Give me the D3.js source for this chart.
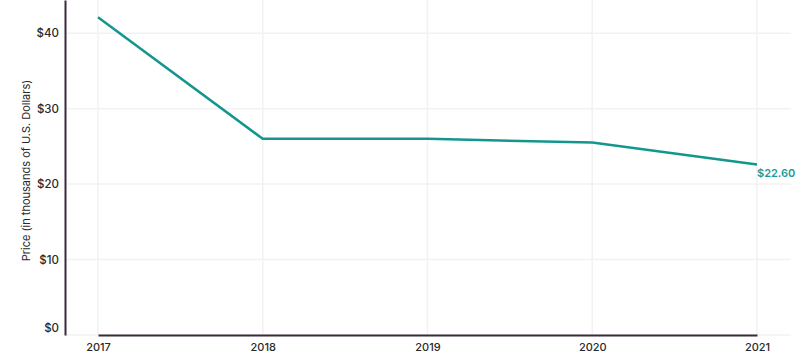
<!DOCTYPE html>
<html>
<head>
<meta charset="utf-8">
<script src="https://cdn.jsdelivr.net/npm/d3@7"></script>
<style>
  body { margin: 0; background: #fff; }
  svg text { font-family: Inter, "Open Sans", sans-serif; }
</style>
</head>
<body>
<svg id="chart"></svg>
<script>
var years = ['2017', '2018', '2019', '2020', '2021'];
var prices = [42.1, 26.0, 26.0, 25.5, 22.6];
var yTicks = [0, 10, 20, 30, 40];
var yTitle = 'Price (in thousands of U.S. Dollars)';

document.addEventListener('DOMContentLoaded', () => {
  var size = { width: 800, height: 354, margin: { top: 0, right: 9, bottom: 19, left: 65 } };
  var margin = size.margin;
  var width = size.width - margin.left - margin.right;
  var height = size.height - margin.top - margin.bottom;

  var x = d3.scalePoint()
    .domain(years)
    .range([33, 692]);

  var y = d3.scaleLinear()
    .domain([0, 44.4])
    .range([height, 0]);

  var svg = d3.select('#chart')
    .attr('width', size.width)
    .attr('height', size.height);

  var chart = svg.append('g')
    .attr('transform', `translate(${ margin.left }, ${ margin.top })`);

  // light grid
  chart.append('g')
    .selectAll('line')
    .data(yTicks)
    .enter().append('line')
      .attr('x1', 0)
      .attr('x2', width)
      .attr('y1', d => y(d))
      .attr('y2', d => y(d))
      .attr('stroke', '#f3f2f3')
      .attr('stroke-width', 1.5);

  chart.append('g')
    .selectAll('line')
    .data(years)
    .enter().append('line')
      .attr('x1', d => x(d))
      .attr('x2', d => x(d))
      .attr('y1', 0)
      .attr('y2', height)
      .attr('stroke', '#f3f2f3')
      .attr('stroke-width', 1.5);

  var yAxis = d3.axisLeft(y)
    .tickValues(yTicks)
    .tickSize(0)
    .tickPadding(6)
    .tickFormat(d => '$' + d);

  var xAxis = d3.axisBottom(x)
    .tickSize(0)
    .tickPadding(8);

  var ya = chart.append('g').call(yAxis);
  ya.select('.domain').attr('stroke', '#3b2a3b').attr('stroke-width', 2);
  ya.selectAll('text')
    .attr('font-size', 11.5)
    .attr('font-weight', 500)
    .attr('fill', '#2a2a2a')
    .attr('dy', d => d === 0 ? '-0.3em' : '0.32em');

  var xa = chart.append('g')
    .attr('transform', `translate(0, ${ height })`)
    .call(xAxis);
  xa.select('.domain').attr('stroke', '#3b2a3b').attr('stroke-width', 2);
  xa.selectAll('text')
    .attr('font-size', 11)
    .attr('font-weight', 500)
    .attr('fill', '#2a2a2a');

  chart.append('text')
    .attr('transform', `translate(-35, ${ height / 2 + 3 }) rotate(-90)`)
    .attr('text-anchor', 'middle')
    .attr('font-size', 11)
    .attr('fill', '#2a2a2a')
    .text(yTitle);

  var line = d3.line()
    .x((d, i) => x(years[i]))
    .y(d => y(d));

  chart.append('path')
    .datum(prices)
    .attr('d', line)
    .attr('fill', 'none')
    .attr('stroke', '#14968f')
    .attr('stroke-width', 2.5);

  var last = prices.length - 1;
  chart.append('text')
    .attr('x', x(years[last]))
    .attr('y', y(prices[last]) + 13)
    .attr('font-size', 11)
    .attr('font-weight', 600)
    .attr('fill', '#1c9a95')
    .text('$' + prices[last].toFixed(2));
});
</script>
</body>
</html>
